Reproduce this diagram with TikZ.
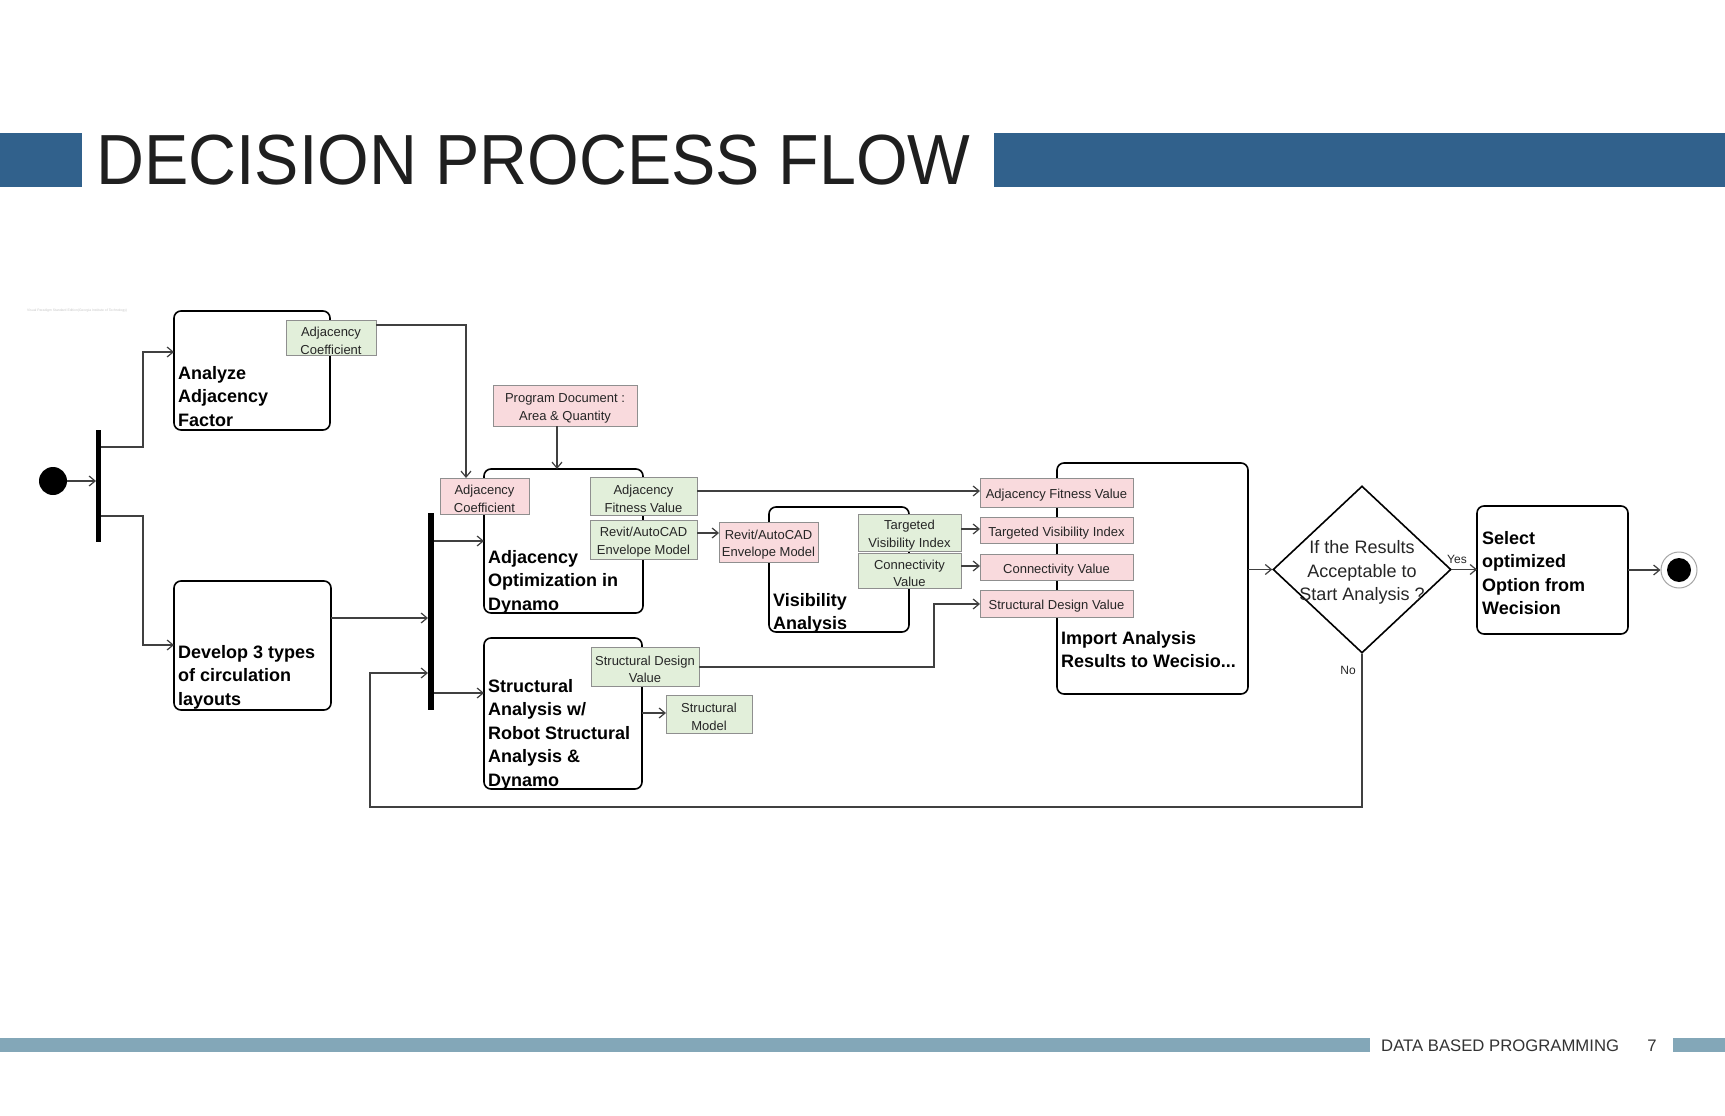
\documentclass[tikz,border=0pt]{standalone}
\usepackage{fontspec}
\setmainfont{Liberation Sans}
\usetikzlibrary{arrows.meta,shapes.geometric,calc}
\definecolor{titleblue}{HTML}{31618C}
\definecolor{footblue}{HTML}{83A7B8}
\definecolor{pingreen}{HTML}{E2EFDA}
\definecolor{pinpink}{HTML}{F9DADD}
\definecolor{pinborder}{HTML}{8F8F8F}
\definecolor{linegray}{HTML}{404040}
\newcommand{\pinup}{\rule{0pt}{15pt}}
\begin{document}
\begin{tikzpicture}[x=1pt,y=-1pt,
  actbox/.style={draw=black, line width=1.6pt, rounded corners=7pt, inner sep=0pt, outer sep=0pt},
  boxtext/.style={anchor=north west, inner sep=0pt, align=left, font=\fontsize{18}{23.5}\selectfont\bfseries},
  pinbase/.style={draw=pinborder, line width=1pt, inner sep=0pt, outer sep=0pt, align=center, font=\fontsize{13}{17.5}\selectfont, text=black!85, execute at begin node={\pinup}},
  gpin/.style={pinbase, fill=pingreen},
  ppin/.style={pinbase, fill=pinpink},
  arr/.style={draw=linegray, line width=1.2pt, -{Straight Barb[length=6pt,width=10pt]}},
  forkbar/.style={fill=black, draw=none, inner sep=0pt, outer sep=0pt},
  small/.style={inner sep=0pt, font=\fontsize{12}{12}\selectfont, text=black!85}
]
\useasboundingbox (0,0) rectangle (1725,1116);
\fill[white] (0,0) rectangle (1725,1116);

% header
\fill[titleblue] (0,133) rectangle (82,187);
\fill[titleblue] (994,133) rectangle (1725,187);
\node[anchor=base west, inner sep=0pt, text=black!88] (title) at (96,184)
  {\scalebox{0.935}[1]{\fontsize{71}{71}\selectfont DECISION PROCESS FLOW}};

% footer
\fill[footblue] (0,1038) rectangle (1370,1052);
\fill[footblue] (1673,1038) rectangle (1725,1052);
\node[anchor=base west, inner sep=0pt, font=\fontsize{16.7}{18}\selectfont, text=black!80] (foot) at (1381,1051) {DATA BASED PROGRAMMING};
\node[anchor=base, inner sep=0pt, font=\fontsize{16.7}{18}\selectfont, text=black!80] (pg) at (1652,1051) {7};

% watermark
\node[anchor=west, inner sep=0pt, font=\fontsize{3.4}{4}\selectfont, text=gray!45] (wm) at (27,311) {Visual Paradigm Standard Edition(Georgia Institute of Technology)};

% start, forks, end
\node[circle, fill=black, minimum size=28pt, inner sep=0pt] (init) at (53,481) {};
\node[forkbar, minimum width=5pt, minimum height=112pt] (fork1) at (98.5,486) {};
\node[forkbar, minimum width=6pt, minimum height=197pt] (fork2) at (431,611.5) {};
\node[circle, draw=gray!70, line width=1pt, minimum size=36pt, inner sep=0pt, fill=white] (fin) at (1679,570) {};
\fill[black] (fin.center) circle (12pt);

% activity boxes
\node[actbox, minimum width=156pt, minimum height=119pt] (a1) at (252,370.5) {};
\node[actbox, minimum width=157pt, minimum height=129pt] (dev) at (252.5,645.5) {};
\node[actbox, minimum width=159pt, minimum height=144pt] (ao) at (563.5,541) {};
\node[actbox, minimum width=158pt, minimum height=151pt] (sa) at (563,713.5) {};
\node[actbox, minimum width=140pt, minimum height=125pt] (va) at (839,569.5) {};
\node[actbox, minimum width=191pt, minimum height=231pt] (ia) at (1152.5,578.5) {};
\node[actbox, minimum width=151pt, minimum height=128pt] (sel) at (1552.5,570) {};
\node[diamond, draw=black, line width=1.6pt, minimum width=178pt, minimum height=167pt, inner sep=0pt] (dia) at (1362,569.5) {};

\node[boxtext] (a1t) at (178,366) {Analyze\\Adjacency\\Factor};
\node[boxtext] (devt) at (178,645) {Develop 3 types\\of circulation\\layouts};
\node[boxtext] (aot) at (488,550) {Adjacency\\Optimization in\\Dynamo};
\node[boxtext] (sat) at (488,679) {Structural\\Analysis w/\\Robot Structural\\Analysis \&\\Dynamo};
\node[boxtext] (vat) at (773,593) {Visibility\\Analysis};
\node[boxtext] (iat) at (1061,631) {Import Analysis\\Results to Wecisio...};
\node[boxtext] (selt) at (1482,531) {Select\\optimized\\Option from\\Wecision};
\node[align=center, inner sep=0pt, font=\fontsize{18}{23.5}\selectfont, text=black!85] (diat) at (1362,572.5) {If the Results\\Acceptable to\\Start Analysis ?};

% pins
\node[gpin, minimum width=90pt, minimum height=35pt] (pinAC1) at (331,338) {\pinup Adjacency\\Coefficient};
\node[ppin, minimum width=89pt, minimum height=36pt] (pinAC2) at (484.5,496) {\pinup Adjacency\\Coefficient};
\node[ppin, minimum width=144pt, minimum height=41pt] (pinPD) at (565,405.5) {\pinup Program Document :\\Area \& Quantity};
\node[gpin, minimum width=107pt, minimum height=38pt] (pinAFV) at (643.5,496) {\pinup Adjacency\\Fitness Value};
\node[gpin, minimum width=107pt, minimum height=39pt] (pinRA) at (643.5,539.5) {\pinup Revit/AutoCAD\\Envelope Model};
\node[ppin, minimum width=99pt, minimum height=40pt] (pinRB) at (768.5,542) {\pinup Revit/AutoCAD\\Envelope Model};
\node[gpin, minimum width=103pt, minimum height=37pt] (pinTVI) at (909.5,532.5) {\pinup Targeted\\Visibility Index};
\node[gpin, minimum width=103pt, minimum height=35pt] (pinCV) at (909.5,570.5) {\pinup Connectivity\\Value};
\node[ppin, minimum width=153pt, minimum height=29pt] (pinAFV2) at (1056.5,492.5) {Adjacency Fitness Value};
\node[ppin, minimum width=153pt, minimum height=26pt] (pinTVI2) at (1056.5,530) {Targeted Visibility Index};
\node[ppin, minimum width=153pt, minimum height=26pt] (pinCV2) at (1056.5,567) {Connectivity Value};
\node[ppin, minimum width=153pt, minimum height=27pt] (pinSDV2) at (1056.5,603.5) {Structural Design Value};
\node[gpin, minimum width=108pt, minimum height=39pt] (pinSDV) at (645,666.5) {\pinup Structural Design\\Value};
\node[gpin, minimum width=86pt, minimum height=38pt] (pinSM) at (709,714) {\pinup Structural\\Model};

% labels
\node[small] (yes) at (1457,559) {Yes};
\node[small] (no) at (1348,670) {No};

% connectors
\coordinate (j1) at (143,447); \coordinate (j2) at (143,352);
\coordinate (j3) at (143,516); \coordinate (j4) at (143,645);
\coordinate (j5) at (0,618);
\coordinate (j6) at (466,325);
\coordinate (j7) at (557,0);
\coordinate (j8) at (0,541);
\coordinate (j9) at (0,693);
\coordinate (j10) at (0,491);
\coordinate (j11) at (0,533);
\coordinate (j12) at (0,529);
\coordinate (j13) at (0,566);
\coordinate (j14) at (934,667); \coordinate (j15) at (934,604);
\coordinate (j16) at (0,713);
\coordinate (j17) at (1362,807); \coordinate (j18) at (370,807); \coordinate (j19) at (370,673);

\draw[arr] (init) -- (fork1.west |- init);
\draw[arr] (fork1.east |- j1) -- (j1) -- (j2) -- (a1.west |- j2);
\draw[arr] (fork1.east |- j3) -- (j3) -- (j4) -- (dev.west |- j4);
\draw[arr] (dev.east |- j5) -- (fork2.west |- j5);
\draw[arr] (pinAC1.east |- j6) -- (j6) -- (pinAC2.north -| j6);
\draw[arr] (pinPD.south -| j7) -- (ao.north -| j7);
\draw[arr] (fork2.east |- j8) -- (ao.west |- j8);
\draw[arr] (fork2.east |- j9) -- (sa.west |- j9);
\draw[arr] (pinAFV.east |- j10) -- (pinAFV2.west |- j10);
\draw[arr] (pinRA.east |- j11) -- (pinRB.west |- j11);
\draw[arr] (pinTVI.east |- j12) -- (pinTVI2.west |- j12);
\draw[arr] (pinCV.east |- j13) -- (pinCV2.west |- j13);
\draw[arr] (pinSDV.east |- j14) -- (j14) -- (j15) -- (pinSDV2.west |- j15);
\draw[arr] (sa.east |- j16) -- (pinSM.west |- j16);
\draw[arr] (ia.east |- dia.west) -- (dia.west);
\draw[arr] (dia.east) -- (sel.west |- dia.east);
\draw[arr] (sel.east |- fin) -- (fin.west);
\draw[arr] (dia.south) -- (j17) -- (j18) -- (j19) -- (fork2.west |- j19);
\end{tikzpicture}
\end{document}
